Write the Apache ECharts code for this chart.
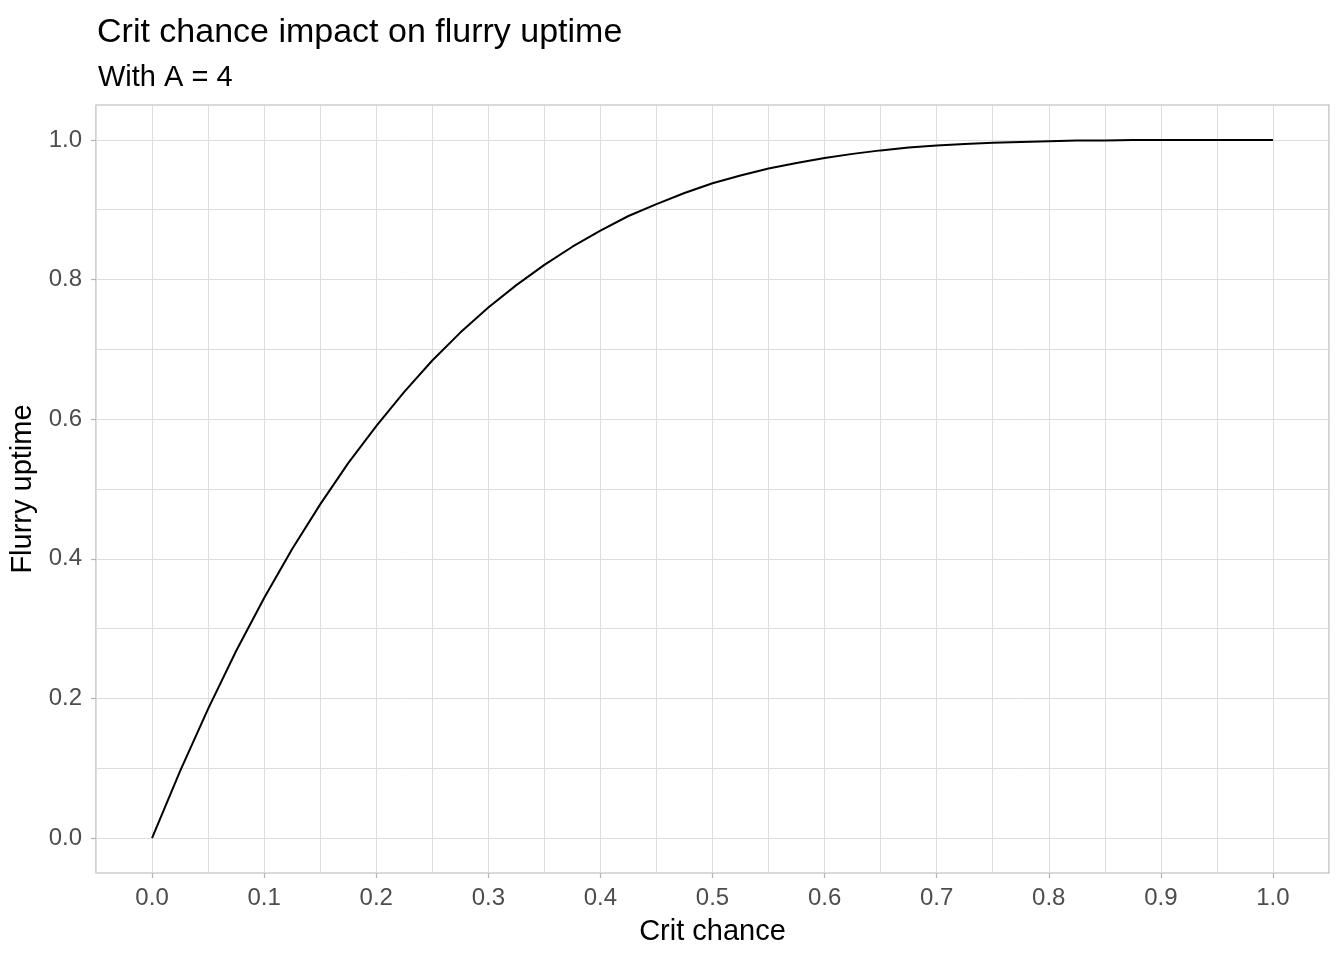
<!DOCTYPE html>
<html>
<head>
<meta charset="utf-8">
<script src="https://cdn.jsdelivr.net/npm/echarts@6/dist/echarts.min.js"></script>
<style>
html,body{margin:0;padding:0;background:#fff;}
#chart{width:1344px;height:960px;}
</style>
</head>
<body>
<div id="chart"></div>
<script>
// Crit chance values (x)
var critChance = [0, 0.025, 0.05, 0.075, 0.1, 0.125, 0.15, 0.175, 0.2, 0.225, 0.25, 0.275, 0.3, 0.325, 0.35, 0.375, 0.4, 0.425, 0.45, 0.475, 0.5, 0.525, 0.55, 0.575, 0.6, 0.625, 0.65, 0.675, 0.7, 0.725, 0.75, 0.775, 0.8, 0.825, 0.85, 0.875, 0.9, 0.925, 0.95, 0.975, 1.0];
// Flurry uptime values (y)
var flurryUptime = [0, 0.096, 0.185, 0.268, 0.344, 0.414, 0.478, 0.537, 0.590, 0.639, 0.684, 0.724, 0.760, 0.792, 0.821, 0.847, 0.870, 0.891, 0.908, 0.924, 0.938, 0.949, 0.959, 0.967, 0.974, 0.980, 0.985, 0.989, 0.992, 0.994, 0.996, 0.997, 0.998, 0.999, 0.999, 1.0, 1.0, 1.0, 1.0, 1.0, 1.0];
// Tick labels
var xTicks = [0, 0.1, 0.2, 0.3, 0.4, 0.5, 0.6, 0.7, 0.8, 0.9, 1.0];
var yTicks = [0, 0.2, 0.4, 0.6, 0.8, 1.0];
var yGrid = [0, 0.1, 0.2, 0.3, 0.4, 0.5, 0.6, 0.7, 0.8, 0.9, 1.0];

var titleText = 'Crit chance impact on flurry uptime';
var subtitleText = 'With A = 4';
var xName = 'Crit chance';
var yName = 'Flurry uptime';

var FONT = '"Liberation Sans", Arial, sans-serif';
var gridColor = '#dedede';

var chart = echarts.init(document.getElementById('chart'), null, {renderer: 'canvas'});

var seriesData = critChance.map(function (c, i) { return [c, flurryUptime[i]]; });

var option = {
  backgroundColor: '#ffffff',
  animation: false,
  title: [
    {text: titleText, left: 92, top: 11, textStyle: {fontFamily: FONT, fontSize: 34, fontWeight: 'normal', color: '#000'}},
    {text: subtitleText, left: 93, top: 58, textStyle: {fontFamily: FONT, fontSize: 29, fontWeight: 'normal', color: '#000'}}
  ],
  grid: {
    left: 96, top: 105, width: 1233, height: 768,
    show: true, borderColor: '#b3b3b3', borderWidth: 1.2, backgroundColor: 'transparent',
    containLabel: false, outerBoundsMode: 'none'
  },
  xAxis: [
    {
      type: 'value', min: -0.05, max: 1.05, position: 'bottom',
      name: xName, nameLocation: 'middle', nameGap: 44,
      nameTextStyle: {fontFamily: FONT, fontSize: 29, color: '#000'},
      axisLine: {show: false, onZero: false},
      axisTick: {show: true, length: 5, lineStyle: {color: '#b3b3b3', width: 1.2}, customValues: xTicks},
      axisLabel: {customValues: xTicks, margin: 13, fontFamily: FONT, fontSize: 24, color: '#4d4d4d',
        formatter: function (v) { return v.toFixed(1); }},
      splitLine: {show: false}
    },
    {
      type: 'value', min: -0.05, max: 1.05, interval: 0.05, position: 'top',
      axisLine: {show: false, onZero: false}, axisTick: {show: false}, axisLabel: {show: false},
      splitLine: {show: true, lineStyle: {color: gridColor, width: 1}}
    }
  ],
  yAxis: [
    {
      type: 'value', min: -0.05, max: 1.05, position: 'left',
      name: yName, nameLocation: 'middle', nameGap: 54, nameRotate: 90,
      nameTextStyle: {fontFamily: FONT, fontSize: 29, color: '#000'},
      axisLine: {show: false, onZero: false},
      axisTick: {show: true, length: 5, lineStyle: {color: '#b3b3b3', width: 1.2}, customValues: yTicks},
      axisLabel: {customValues: yTicks, margin: 14, fontFamily: FONT, fontSize: 24, color: '#4d4d4d',
        formatter: function (v) { return v.toFixed(1); }},
      splitLine: {show: false}
    },
    {
      type: 'value', min: -0.05, max: 1.05, position: 'right',
      axisLine: {show: false, onZero: false},
      axisTick: {show: false, customValues: yGrid},
      axisLabel: {show: false, customValues: yGrid},
      splitLine: {show: true, lineStyle: {color: gridColor, width: 1}}
    }
  ],
  series: [
    {
      type: 'line', xAxisIndex: 0, yAxisIndex: 0,
      data: seriesData, showSymbol: false, smooth: false,
      lineStyle: {color: '#000', width: 2},
      z: 5
    }
  ]
};
chart.setOption(option);
</script>
</body>
</html>
